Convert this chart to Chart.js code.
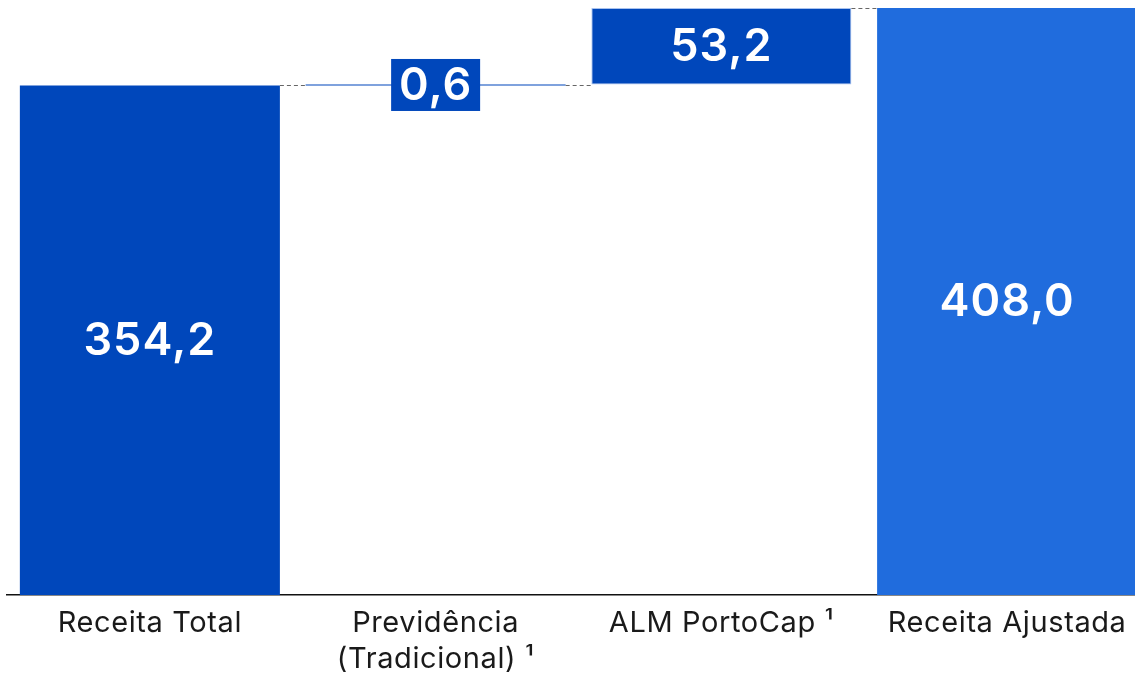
<!DOCTYPE html>
<html>
<head>
<meta charset="utf-8">
<script src="https://cdn.jsdelivr.net/npm/chart.js@4.4.0/dist/chart.umd.min.js"></script>
<style>
  html, body { margin: 0; padding: 0; background: #fff; overflow: hidden; }
  #wrap { width: 1150px; height: 674px; position: relative; }
</style>
</head>
<body>
<div id="wrap"><canvas id="waterfall"></canvas></div>
<script>
// Chart data
const categories = [['Receita Total'], ['Previdência', '(Tradicional) ¹'], ['ALM PortoCap ¹'], ['Receita Ajustada']];
const startValues = [0, 354.2, 354.8, 0];
const endValues = [354.2, 354.8, 408.0, 408.0];

const darkBlue = '#0047BB';
const lightBlue = '#206CDD';

// Label text, comma decimal like the original
function fmt(v) {
  return v.toFixed(1).replace('.', ',');
}

// Slightly wider spacing for the axis labels
const tickSpacing = {
  id: 'tickSpacing',
  beforeDraw(chart) { chart.ctx.letterSpacing = '0.6px'; },
  beforeDatasetsDraw(chart) { chart.ctx.letterSpacing = '0px'; }
};

// Draws dashed connectors and value labels
const waterfallLabels = {
  id: 'waterfallLabels',
  afterDatasetsDraw(chart) {
    const ctx = chart.ctx;
    const meta = chart.getDatasetMeta(0);
    const y = chart.scales.y;

    ctx.save();
    // connectors
    ctx.strokeStyle = '#666';
    ctx.lineWidth = 1;
    ctx.setLineDash([4, 3]);
    for (let i = 0; i < meta.data.length - 1; i++) {
      const a = meta.data[i], b = meta.data[i + 1];
      const py = Math.round(y.getPixelForValue(endValues[i])) + 0.5;
      ctx.beginPath();
      ctx.moveTo(a.x + a.width / 2, py);
      ctx.lineTo(b.x - b.width / 2, py);
      ctx.stroke();
    }
    ctx.setLineDash([]);

    // value labels
    ctx.font = '600 45px Inter, "Liberation Sans", sans-serif';
    ctx.letterSpacing = '1px';
    ctx.textAlign = 'center';
    ctx.textBaseline = 'middle';
    meta.data.forEach((bar, i) => {
      const text = fmt(endValues[i] - startValues[i]);
      const cy = (bar.y + bar.base) / 2;
      if (Math.abs(bar.base - bar.y) < 40) {
        // tiny bar: label in a box
        const w = 89;
        const h = 52;
        ctx.fillStyle = darkBlue;
        ctx.fillRect(bar.x - w / 2, cy - h / 2, w, h);
      }
      ctx.fillStyle = '#fff';
      ctx.fillText(text, bar.x, cy + 1);
    });
    ctx.restore();
  }
};

const ctx = document.getElementById('waterfall').getContext('2d');
const chart = new Chart(ctx, {
  type: 'bar',
  data: {
    labels: categories,
    datasets: [{
      data: startValues.map((s, i) => [s, endValues[i]]),
      backgroundColor: [darkBlue, darkBlue, darkBlue, lightBlue],
      borderColor: [darkBlue, darkBlue, '#a8c2ee', lightBlue],
      borderWidth: [0, 0, 1, 0],
      borderSkipped: false,
      barPercentage: 0.91,
      categoryPercentage: 1.0
    }]
  },
  options: {
    responsive: true,
    maintainAspectRatio: false,
    animation: false,
    layout: { padding: { left: 7, top: 8, right: 0, bottom: 0 } },
    plugins: {
      legend: { display: false },
      tooltip: { enabled: false }
    },
    scales: {
      x: {
        grid: { display: false, drawTicks: false },
        border: { display: true, color: '#111', width: 1.5 },
        ticks: {
          color: '#1a1a1a',
          padding: 10,
          font: { family: 'Inter, "Noto Sans", sans-serif', size: 29, lineHeight: 1.24 },
          maxRotation: 0,
          autoSkip: false
        },
        afterFit(scale) { scale.height = 79; }
      },
      y: {
        display: false,
        min: 0,
        max: 408
      }
    }
  },
  plugins: [tickSpacing, waterfallLabels]
});
</script>
</body>
</html>
